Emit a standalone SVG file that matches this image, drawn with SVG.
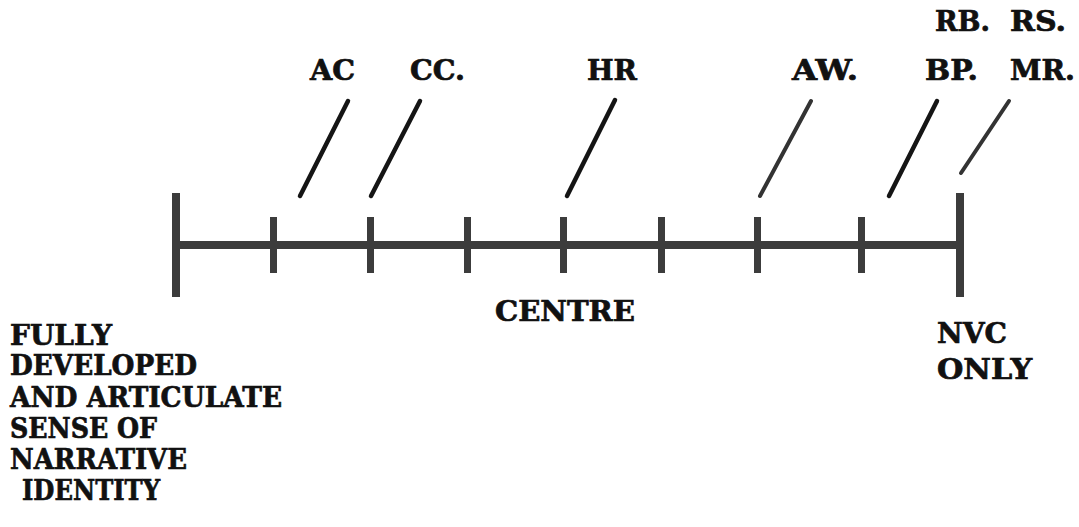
<svg xmlns="http://www.w3.org/2000/svg" width="1079" height="527" viewBox="0 0 1079 527">
<style>
.t{font-family:"DejaVu Serif","Liberation Serif",serif;font-weight:bold;font-size:28px;fill:#111;stroke:#111;stroke-width:0.7}
.bar{fill:#3c3c3c}
.lk{stroke:#151515;stroke-width:4.5;stroke-linecap:round;fill:none}
.lg{stroke:#333;stroke-width:4;stroke-linecap:round;fill:none}
</style>
<rect width="1079" height="527" fill="#fff"/>
<g id="axis">
<rect class="bar" x="176" y="241" width="784" height="8"/>
<rect class="bar" x="172" y="193" width="8" height="104"/>
<rect class="bar" x="956" y="193" width="8" height="104"/>
</g>
<g id="ticks">
<rect class="bar" x="270" y="217" width="7" height="56"/>
<rect class="bar" x="367" y="217" width="7" height="56"/>
<rect class="bar" x="464" y="217" width="7" height="56"/>
<rect class="bar" x="560" y="217" width="7" height="56"/>
<rect class="bar" x="658" y="217" width="7" height="56"/>
<rect class="bar" x="754" y="217" width="7" height="56"/>
<rect class="bar" x="858" y="217" width="7" height="56"/>
</g>
<g id="connectors">
<line class="lk" x1="348" y1="101" x2="300" y2="196"/>
<line class="lk" x1="420" y1="101" x2="371" y2="196"/>
<line class="lk" x1="615" y1="100" x2="567" y2="196"/>
<line class="lg" x1="811" y1="101" x2="760" y2="196"/>
<line class="lk" x1="937" y1="101" x2="889" y2="196"/>
<line class="lg" x1="1009" y1="101" x2="961" y2="173"/>
</g>
<g id="label-AC"><text class="t" x="310" y="80" textLength="45" lengthAdjust="spacingAndGlyphs">AC</text></g>
<g id="label-CC"><text class="t" x="410" y="80" textLength="55" lengthAdjust="spacingAndGlyphs">CC.</text></g>
<g id="label-HR"><text class="t" x="587" y="80" textLength="50" lengthAdjust="spacingAndGlyphs">HR</text></g>
<g id="label-AW"><text class="t" x="792" y="80" textLength="66" lengthAdjust="spacingAndGlyphs">AW.</text></g>
<g id="label-BP"><text class="t" x="925" y="80" textLength="53" lengthAdjust="spacingAndGlyphs">BP.</text></g>
<g id="label-MR"><text class="t" x="1010" y="80" textLength="65" lengthAdjust="spacingAndGlyphs">MR.</text></g>
<g id="label-RB"><text class="t" x="935" y="31" textLength="55" lengthAdjust="spacingAndGlyphs">RB.</text></g>
<g id="label-RS"><text class="t" x="1010" y="31" textLength="56" lengthAdjust="spacingAndGlyphs">RS.</text></g>
<g id="label-centre"><text class="t" x="495" y="321" textLength="140" lengthAdjust="spacingAndGlyphs">CENTRE</text></g>
<g id="label-nvc">
<text class="t" x="937" y="343" textLength="70" lengthAdjust="spacingAndGlyphs">NVC</text>
<text class="t" x="937" y="379" textLength="95" lengthAdjust="spacingAndGlyphs">ONLY</text>
</g>
<g id="label-left">
<text class="t" x="10" y="345" textLength="102" lengthAdjust="spacingAndGlyphs">FULLY</text>
<text class="t" x="10" y="375" textLength="187" lengthAdjust="spacingAndGlyphs">DEVELOPED</text>
<text class="t" x="10" y="407" textLength="272" lengthAdjust="spacingAndGlyphs">AND ARTICULATE</text>
<text class="t" x="10" y="438" textLength="147" lengthAdjust="spacingAndGlyphs">SENSE OF</text>
<text class="t" x="10" y="469" textLength="177" lengthAdjust="spacingAndGlyphs">NARRATIVE</text>
<text class="t" x="22" y="500" textLength="138" lengthAdjust="spacingAndGlyphs">IDENTITY</text>
</g>
</svg>
